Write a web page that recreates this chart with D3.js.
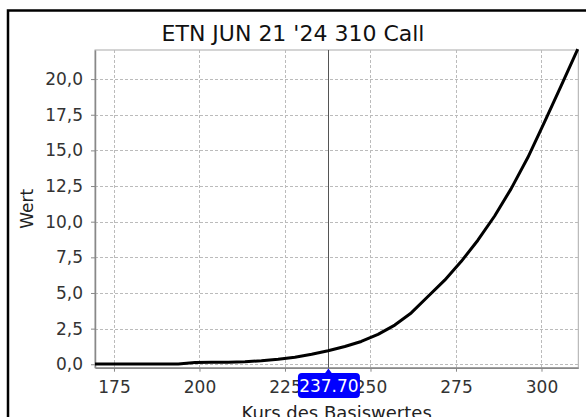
<!DOCTYPE html>
<html><head><meta charset="utf-8">
<script src="https://cdn.jsdelivr.net/npm/d3@7"></script>
<style>
html,body{margin:0;padding:0;background:#fff;overflow:hidden}
text{font-family:"DejaVu Sans",Verdana,sans-serif}
</style></head>
<body>
<script>
const title = "ETN JUN 21 '24 310 Call";
const xLabel = "Kurs des Basiswertes";
const yLabel = "Wert";
const prices = [169.45,174.3,179.2,184.1,188.9,193.8,198.7,203.5,208.4,213.3,218.1,223.0,227.9,232.8,237.6,242.5,247.3,252.2,257.1,261.9,266.8,271.7,276.5,281.4,286.3,291.1,296.0,300.9,305.7,310.6];
const values = [0.02,0.02,0.02,0.02,0.02,0.02,0.12,0.15,0.15,0.17,0.25,0.36,0.5,0.7,0.95,1.25,1.6,2.1,2.75,3.6,4.75,5.9,7.2,8.7,10.4,12.3,14.5,17.0,19.5,22.1];
const xTicks = [175,200,225,250,275,300];
const yTicks = [0,2.5,5,7.5,10,12.5,15,17.5,20];
const current = 237.70;

const W = 586, H = 417;
const svg = d3.select("body").append("svg").attr("width", W).attr("height", H);
svg.append("rect").attr("x",0).attr("y",0).attr("width",W).attr("height",H).attr("fill","#fff");
// outer frame
svg.append("rect").attr("x",8).attr("y",10.5).attr("width",W+20).attr("height",H+20)
  .attr("fill","none").attr("stroke","#000").attr("stroke-width",2.5);

const L = 95, R = 578.3, T = 50, B = 367.7;
const x = d3.scaleLinear().domain([169.45, 310.76]).range([L, R]);
const y = d3.scaleLinear().domain([-0.24, 22.04]).range([B, T]);

svg.append("text").attr("x", 293).attr("y", 41).attr("text-anchor","middle")
  .attr("font-size", 22).attr("fill","#111").text(title);

// plot border (top/right)
svg.append("rect").attr("x",L).attr("y",T).attr("width",R-L).attr("height",B-T)
  .attr("fill","#fff").attr("stroke","#aaa").attr("stroke-width",1);

// grid
const g = svg.append("g");
g.selectAll(".vg").data(xTicks).join("line")
  .attr("x1", d=>Math.round(x(d))+0.5).attr("x2", d=>Math.round(x(d))+0.5)
  .attr("y1", T).attr("y2", B)
  .attr("stroke","#bbb").attr("stroke-dasharray","3,2");
g.selectAll(".hg").data(yTicks).join("line")
  .attr("y1", d=>Math.round(y(d))+0.5).attr("y2", d=>Math.round(y(d))+0.5)
  .attr("x1", L).attr("x2", R)
  .attr("stroke","#bbb").attr("stroke-dasharray","3,2");

// axes
const fmt = d => d3.format(".1f")(d).replace(".", ",");
const ax = svg.append("g").attr("transform",`translate(0,${B})`)
  .call(d3.axisBottom(x).tickValues(xTicks).tickSize(4).tickPadding(9).tickSizeOuter(0));
const ay = svg.append("g").attr("transform",`translate(${L},0)`)
  .call(d3.axisLeft(y).tickValues(yTicks).tickFormat(fmt).tickSize(4).tickPadding(8).tickSizeOuter(0));
[ax, ay].forEach(a => {
  a.select(".domain").attr("stroke","#888").attr("stroke-width",1.5);
  a.selectAll(".tick line").attr("stroke","#888");
  a.selectAll(".tick text").attr("font-size",17).attr("fill","#333")
   .attr("font-family","'DejaVu Sans',Verdana,sans-serif");
});

// current price line
svg.append("line").attr("x1", Math.round(x(current))+0.5).attr("x2", Math.round(x(current))+0.5)
  .attr("y1", T).attr("y2", B).attr("stroke","#555").attr("stroke-width",1);

// curve
const data = prices.map((p,i)=>({p, v: values[i]}));
svg.append("path").datum(data)
  .attr("d", d3.line().x(d=>x(d.p)).y(d=>y(d.v)))
  .attr("fill","none").attr("stroke","#000").attr("stroke-width",3).attr("stroke-linejoin","round");

// axis titles
svg.append("text").attr("x", (L+R)/2).attr("y", 419).attr("text-anchor","middle")
  .attr("font-size", 18).attr("fill","#222").text(xLabel);
svg.append("text").attr("transform", `translate(33,${(T+B)/2}) rotate(-90)`)
  .attr("text-anchor","middle").attr("font-size", 17).attr("fill","#222").text(yLabel);

// current price marker label
const cx = x(current);
const lbl = svg.append("g");
lbl.append("path").attr("d", `M${cx-4},374 L${cx},368.5 L${cx+4},374 Z`).attr("fill","#0000ff");
lbl.append("rect").attr("x", cx-30.5).attr("y", 373).attr("width", 62).attr("height", 25).attr("rx", 4)
  .attr("fill","#0000ff");
lbl.append("text").attr("x", cx+0.5).attr("y", 392).attr("text-anchor","middle")
  .attr("font-size", 17).attr("fill","#fff").text(current.toFixed(2));
</script>
</body></html>
